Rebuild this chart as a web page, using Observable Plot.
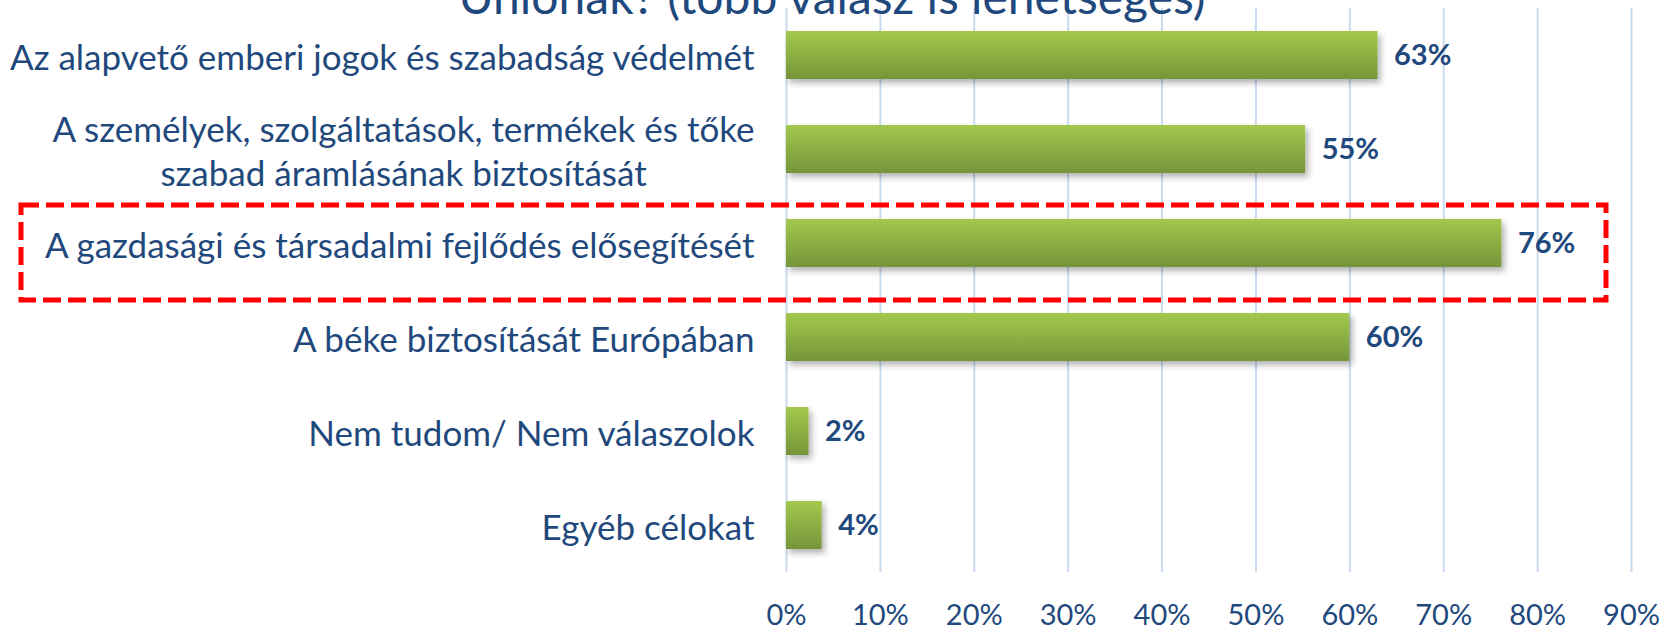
<!DOCTYPE html>
<html><head><meta charset="utf-8">
<script src="https://cdn.jsdelivr.net/npm/d3@7"></script>
<script src="https://cdn.jsdelivr.net/npm/@observablehq/plot@0.6"></script>
<style>
html,body{margin:0;padding:0;background:#fff;overflow:hidden;}
#wrap{position:relative;width:1660px;height:626px;overflow:hidden;}
#wrap svg{position:absolute;left:0;top:0;}
#title{position:absolute;left:0;width:1664px;text-align:center;top:-28px;font-family:Lato;font-size:48px;color:#1F497D;line-height:1;white-space:nowrap;z-index:2;}
</style></head><body>
<div id="wrap"><div id="title">Uniónak? (több válasz is lehetséges)</div></div>
<script>
const categories = [
  "Az alapvető emberi jogok és szabadság védelmét",
  "A személyek, szolgáltatások, termékek és tőke\nszabad áramlásának biztosítását",
  "A gazdasági és társadalmi fejlődés elősegítését",
  "A béke biztosítását Európában",
  "Nem tudom/ Nem válaszolok",
  "Egyéb célokat"
];
const values = [63, 55.3, 76.2, 60, 2.4, 3.8];
const xTicks = [0, 10, 20, 30, 40, 50, 60, 70, 80, 90];
const highlighted = ["A gazdasági és társadalmi fejlődés elősegítését"];

const data = categories.map((c, i) => ({category: c, value: values[i]}));

const plot = Plot.plot({
  width: 1660, height: 626,
  marginLeft: 786, marginRight: 29, marginTop: 8, marginBottom: 54,
  style: {fontFamily: "Lato", color: "#1F497D", background: "transparent", overflow: "visible"},
  x: {domain: [0, 90]},
  y: {domain: categories, paddingInner: 0.49, paddingOuter: 0.245, axis: null},
  marks: [
    Plot.gridX(xTicks, {stroke: "#C9DAEF", strokeOpacity: 1, strokeWidth: 2}),
    Plot.axisX(xTicks, {tickSize: 0, tickPadding: 32, fontSize: 29, tickFormat: d => d + "%", label: null}),
    Plot.text(categories, {y: d => d, frameAnchor: "left", textAnchor: "end", dx: -32, fontSize: 35, lineHeight: 1.27, fill: "#1F497D"}),
    Plot.barX(data, {y: "category", x: "value", fill: "url(#barGrad)"}),
    Plot.text(data, {y: "category", x: "value", text: d => Math.round(d.value) + "%", textAnchor: "start", dx: 16, fontWeight: "bold", fontSize: 29, fill: "#1F497D"}),
    Plot.barX(highlighted, {y: d => d, x1: 0, x2: 90, fill: "none", stroke: "#FF0000", strokeWidth: 5, strokeDasharray: "18,7",
      insetLeft: -765, insetRight: 25, insetTop: -14, insetBottom: -33})
  ]
});

const svg = d3.select(plot);
const defs = svg.insert("defs", ":first-child");
const grad = defs.append("linearGradient").attr("id", "barGrad").attr("x1", 0).attr("y1", 0).attr("x2", 0).attr("y2", 1);
grad.append("stop").attr("offset", "0%").attr("stop-color", "#A3C84C");
grad.append("stop").attr("offset", "100%").attr("stop-color", "#76953A");
const f = defs.append("filter").attr("id", "shadow").attr("x", "-5%").attr("y", "-10%").attr("width", "115%").attr("height", "125%");
f.append("feDropShadow").attr("dx", 3).attr("dy", 4).attr("stdDeviation", 3).attr("flood-color", "#000").attr("flood-opacity", 0.3);
svg.select('g[aria-label="bar"]').attr("filter", "url(#shadow)");

document.getElementById("wrap").appendChild(plot);

// center the lines of multi-line category labels within their block (as in the reference)
const labelGroup = plot.querySelector('g[aria-label="text"]');
labelGroup.querySelectorAll("text").forEach(t => {
  const spans = t.querySelectorAll("tspan");
  if (spans.length > 1) {
    const w = Math.max(...Array.from(spans, s => s.getComputedTextLength()));
    t.setAttribute("text-anchor", "middle");
    spans.forEach(s => s.setAttribute("x", -w / 2));
  }
});
</script>
</body></html>
